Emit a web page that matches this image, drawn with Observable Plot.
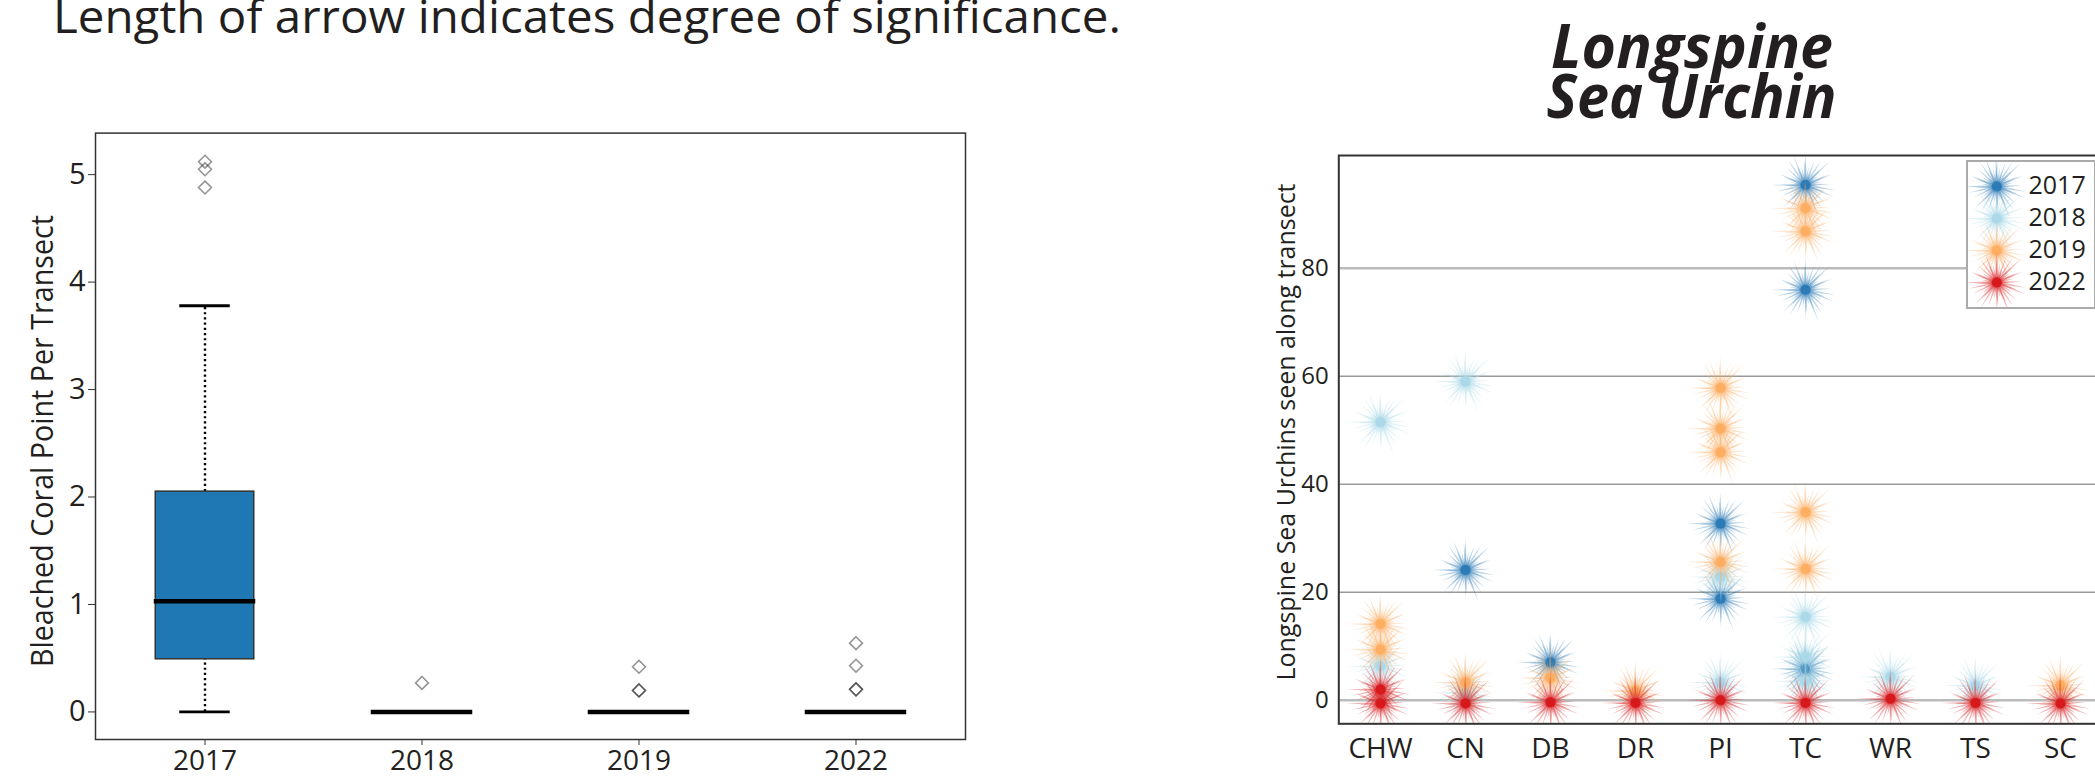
<!DOCTYPE html>
<html><head><meta charset="utf-8">
<script src="https://cdn.jsdelivr.net/npm/d3@7"></script>
<script src="https://cdn.jsdelivr.net/npm/@observablehq/plot@0.6"></script>
<style>
html,body{margin:0;padding:0;background:#fff;overflow:hidden;}
#page{position:relative;width:2095px;height:779px;overflow:hidden;background:#fff;font-family:"Open Sans",sans-serif;}
#page > svg{position:absolute;max-width:none;}
</style></head><body><div id="page"></div>
<script>
// ---------- Left panel: bleached coral points per transect (box plot) ----------
const boxYears    = ["2017", "2018", "2019", "2022"];
const boxQ1       = [0.49, 0, 0, 0];
const boxMedian   = [1.03, 0, 0, 0];
const boxQ3       = [2.05, 0, 0, 0];
const whiskerLow  = [0, 0, 0, 0];
const whiskerHigh = [3.78, 0, 0, 0];
const outlierYears  = ["2017", "2017", "2017", "2018", "2019", "2019", "2019", "2022", "2022", "2022", "2022"];
const outlierValues = [5.12, 5.05, 4.88, 0.27, 0.42, 0.20, 0.20, 0.64, 0.43, 0.21, 0.21];
const coralTicks = [0, 1, 2, 3, 4, 5];

// ---------- Right panel: longspine sea urchins per transect ----------
const sites = ["CHW", "CN", "DB", "DR", "PI", "TC", "WR", "TS", "SC"];
const urchinYears = ["2017", "2018", "2019", "2022"];
const yearColors  = ["#2c7bb6", "#abd9e9", "#fdae61", "#d7191c"];
const sites2017   = ["CN", "DB", "PI", "PI", "TC", "TC", "TC"];
const urchins2017 = [24.1, 7.0, 32.7, 18.8, 95.4, 76.0, 5.8];
const sites2018   = ["CHW", "CHW", "CN", "CN", "PI", "PI", "TC", "TC", "TC", "WR", "TS"];
const urchins2018 = [51.5, 6.3, 59.0, 1.4, 22.8, 3.3, 15.4, 8.0, 3.5, 4.3, 2.7];
const sites2019   = ["CHW", "CHW", "CN", "DB", "DR", "PI", "PI", "PI", "PI", "TC", "TC", "TC", "TC", "SC"];
const urchins2019 = [14.1, 9.4, 3.3, 4.1, 1.7, 57.8, 50.3, 45.9, 25.6, 91.1, 86.8, 34.8, 24.3, 2.7];
const sites2022   = ["CHW", "CHW", "CN", "DB", "DR", "PI", "TC", "WR", "TS", "SC"];
const urchins2022 = [2.0, -0.6, -0.6, -0.4, -0.5, 0.0, -0.5, 0.25, -0.5, -0.6];
const urchinTicks = [0, 20, 40, 60, 80];

// ---------- styling constants (star glyph) ----------
const RAY_COUNT = 48;
const RAY_LENGTHS = [31, 19, 26, 14, 29, 22, 34, 16, 24, 28, 17, 25, 12, 30, 21];
const rays = d3.range(RAY_COUNT).map(k => ({angle: k * 360 / RAY_COUNT + (k % 3) * 2.5, len: RAY_LENGTHS[k % RAY_LENGTHS.length]}));
const INK = "#231f20";

const page = document.getElementById("page");

// ---------- build tables ----------
const boxTable = boxYears.map((year, i) => ({year, q1: boxQ1[i], median: boxMedian[i], q3: boxQ3[i], lo: whiskerLow[i], hi: whiskerHigh[i]}));
const outlierTable = outlierYears.map((year, i) => ({year, value: outlierValues[i]}));

const urchinSites = [sites2017, sites2018, sites2019, sites2022];
const urchinValues = [urchins2017, urchins2018, urchins2019, urchins2022];
const urchinTables = urchinYears.map((year, j) => urchinSites[j].map((site, i) => ({year, site, value: urchinValues[j][i]})));

function starMarks(points, color, opts = {}) {
  const rayData = points.flatMap(p => rays.map(r => ({...p, angle: r.angle, len: r.len})));
  return [
    Plot.vector(rayData, {...opts, rotate: "angle", length: "len", shape: "spike", anchor: "start", r: 1.5,
      fill: color, fillOpacity: 0.34, stroke: "none"}),
    Plot.dot(points, {...opts, r: 5, fill: color, stroke: "none"})
  ];
}

// ---------- left chart ----------
const left = Plot.plot({
  width: 1000, height: 779,
  marginLeft: 95, marginRight: 35, marginTop: 132.6, marginBottom: 40,
  style: {fontFamily: "Open Sans", color: INK, background: "transparent"},
  x: {type: "band", domain: boxYears, padding: 0},
  y: {domain: [-0.2565, 5.3865]},
  marks: [
    Plot.ruleX(boxTable, {x: "year", y1: "q3", y2: "hi", stroke: "black", strokeWidth: 2.4, strokeDasharray: "2.2,3"}),
    Plot.ruleX(boxTable, {x: "year", y1: "lo", y2: "q1", stroke: "black", strokeWidth: 2.4, strokeDasharray: "2.2,3"}),
    Plot.tickY(boxTable, {x: "year", y: "hi", insetLeft: 83.25, insetRight: 83.25, stroke: "black", strokeWidth: 2.8}),
    Plot.tickY(boxTable, {x: "year", y: "lo", insetLeft: 83.25, insetRight: 83.25, stroke: "black", strokeWidth: 2.8}),
    Plot.barY(boxTable, {x: "year", y1: "q1", y2: "q3", insetLeft: 59.25, insetRight: 59.25, fill: "#1f77b4", stroke: "#333", strokeWidth: 1.5}),
    Plot.tickY(boxTable, {x: "year", y: "median", insetLeft: 57.75, insetRight: 57.75, stroke: "black", strokeWidth: 4.5}),
    Plot.dot(outlierTable, {x: "year", y: "value", symbol: "diamond2", r: 5.8, fill: "none", stroke: "black", strokeOpacity: 0.42, strokeWidth: 1.6}),
    Plot.frame({stroke: "#333", strokeWidth: 1.5}),
    Plot.axisY({ticks: coralTicks, tickFormat: d3.format("d"), tickSize: 7, tickPadding: 3, fontSize: 29, label: null, stroke: "#333"}),
    Plot.axisX({tickSize: 6, tickPadding: 5, fontSize: 28, label: null, stroke: "#333"})
  ]
});
left.style.left = "0px"; left.style.top = "0px";
page.appendChild(left);

// ---------- right chart ----------
const right = Plot.plot({
  width: 920, height: 779,
  marginLeft: 138.3, marginRight: 18.4, marginTop: 155, marginBottom: 55.7,
  style: {fontFamily: "Open Sans", color: INK, background: "transparent"},
  x: {type: "point", domain: sites, padding: 0.438},
  y: {domain: [-4.37, 100.87]},
  length: {type: "linear", domain: [0, 100], range: [0, 100]},
  marks: [
    Plot.ruleY(urchinTicks.filter(t => t !== 0 && t !== 80), {stroke: "#999", strokeWidth: 1.5}),
    Plot.ruleY(urchinTicks.filter(t => t === 0 || t === 80), {stroke: "#bbb", strokeWidth: 2.5}),
    ...urchinTables.flatMap((tbl, j) => starMarks(tbl, yearColors[j], {x: "site", y: "value", clip: true})),
    Plot.frame({stroke: "#333", strokeWidth: 2}),
    Plot.axisY({ticks: urchinTicks, tickSize: 0, tickPadding: 10, fontSize: 24, label: null}),
    Plot.axisX({tickSize: 0, tickPadding: 14, fontSize: 28, label: null})
  ]
});
right.style.left = "1200px"; right.style.top = "0px";
page.appendChild(right);

// ---------- legend ----------
const legendTable = urchinYears.map((year, j) => ({year, color: yearColors[j]}));
const legend = Plot.plot({
  width: 126, height: 145,
  marginLeft: 0, marginRight: 69.4, marginTop: 23, marginBottom: 23.7,
  style: {fontFamily: "Open Sans", color: INK, background: "white"},
  x: {axis: null},
  y: {type: "point", domain: urchinYears, padding: 0, axis: null},
  length: {type: "linear", domain: [0, 100], range: [0, 100]},
  marks: [
    ...legendTable.flatMap(d => starMarks([d], d.color, {y: "year"})),
    Plot.text(legendTable, {y: "year", text: "year", dx: 31.7, dy: -1, textAnchor: "start", fontSize: 25, fill: INK})
  ]
});
legend.style.left = "1965.7px"; legend.style.top = "160px";
legend.style.border = "2px solid #aaa"; legend.style.background = "white";
page.appendChild(legend);

// ---------- titles and axis labels ----------
const ov = d3.create("svg").attr("width", 2095).attr("height", 779)
  .style("left", "0px").style("top", "0px").style("pointer-events", "none")
  .attr("font-family", "Open Sans").attr("fill", INK);
ov.append("text").attr("x", 53).attr("y", 32.5).attr("font-size", 45)
  .attr("textLength", 1068).attr("lengthAdjust", "spacingAndGlyphs")
  .text("Length of arrow indicates degree of significance.");
const ttl = ov.append("text").attr("font-size", 60).attr("font-weight", 700).attr("font-style", "italic");
ttl.append("tspan").attr("x", 1551).attr("y", 68.3)
  .attr("textLength", 282).attr("lengthAdjust", "spacingAndGlyphs").text("Longspine");
ttl.append("tspan").attr("x", 1546.5).attr("y", 118.3)
  .attr("textLength", 290).attr("lengthAdjust", "spacingAndGlyphs").text("Sea Urchin");
ov.append("text").attr("transform", "translate(52.7,441) rotate(-90)").attr("text-anchor", "middle").attr("font-size", 31)
  .attr("textLength", 452).attr("lengthAdjust", "spacingAndGlyphs").text("Bleached Coral Point Per Transect");
ov.append("text").attr("transform", "translate(1295,432) rotate(-90)").attr("text-anchor", "middle").attr("font-size", 26)
  .attr("textLength", 497).attr("lengthAdjust", "spacingAndGlyphs").text("Longspine Sea Urchins seen along transect");
page.appendChild(ov.node());
</script></body></html>
